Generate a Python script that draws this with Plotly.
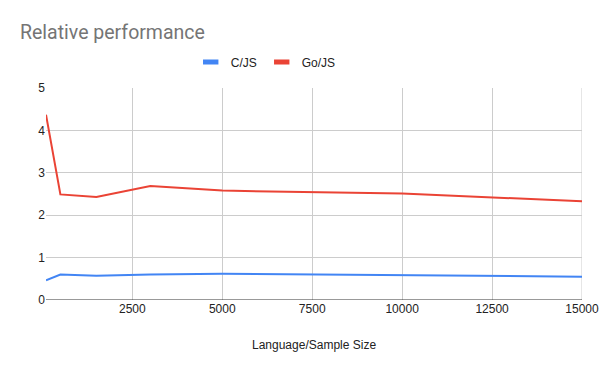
import plotly.graph_objects as go

sizes = [100, 500, 1500, 3000, 5000, 10000, 15000]
c_js = [0.465, 0.60, 0.57, 0.60, 0.62, 0.59, 0.55]
go_js = [4.37, 2.49, 2.43, 2.69, 2.58, 2.51, 2.33]
x_ticks = [2500, 5000, 7500, 10000, 12500, 15000]
x_labels = ["2500", "5000", "7500", "10000", "12500", "15000"]
y_ticks = [0, 1, 2, 3, 4, 5]
series = [("C/JS", c_js, "#4285F4"), ("Go/JS", go_js, "#EA4335")]

fig = go.Figure()
for name, vals, color in series:
    fig.add_trace(go.Scatter(x=sizes, y=vals, mode="lines", name=name, legendgroup=name,
                             showlegend=False, line=dict(color=color, width=2)))
for name, vals, color in series:
    fig.add_trace(go.Scatter(x=[None], y=[None], mode="markers", name=name, legendgroup=name,
                             marker=dict(symbol="line-ew", size=11,
                                         line=dict(color=color, width=5))))

font = "Liberation Sans, Arial, sans-serif"
fig.update_layout(
    width=600, height=371,
    margin=dict(l=46, r=18, t=88, b=71, autoexpand=False),
    paper_bgcolor="white", plot_bgcolor="white",
    font=dict(family=font, size=12, color="#222222"),
    title=dict(text="Relative performance", x=20/600, xanchor="left",
               y=1-32/371, yanchor="middle", yref="container",
               font=dict(family="Roboto, Arial, sans-serif", size=19.5, color="#757575")),
    legend=dict(orientation="h", x=162/600, xanchor="left", y=1-62/371, yanchor="middle",
                yref="container", font=dict(size=12, color="#222222"),
                itemwidth=30),
    showlegend=True,
)
fig.update_xaxes(range=[100, 15000], tickvals=x_ticks, ticktext=x_labels, showgrid=True,
                 gridcolor="#cccccc", gridwidth=1, zeroline=False, automargin=False,
                 showline=False, ticks="", tickfont=dict(size=12, color="#222222"))
fig.update_yaxes(range=[0, 5], tickvals=y_ticks, showgrid=True, automargin=False,
                 gridcolor="#cccccc", gridwidth=1, zeroline=False,
                 showline=False, ticks="", tickfont=dict(size=12, color="#222222"))
fig.add_shape(type="line", xref="x", yref="paper", x0=15000, x1=15000, y0=0, y1=1,
              line=dict(color="#cccccc", width=1), layer="below")
fig.add_shape(type="line", xref="paper", yref="y", x0=0, x1=1, y0=0, y1=0,
              line=dict(color="#333333", width=1))
fig.add_annotation(text="Language/Sample Size", xref="paper", yref="paper",
                   x=0.5, y=-45/212, xanchor="center", yanchor="middle",
                   showarrow=False, font=dict(size=12, color="#222222"))

fig.write_html("out.html")
